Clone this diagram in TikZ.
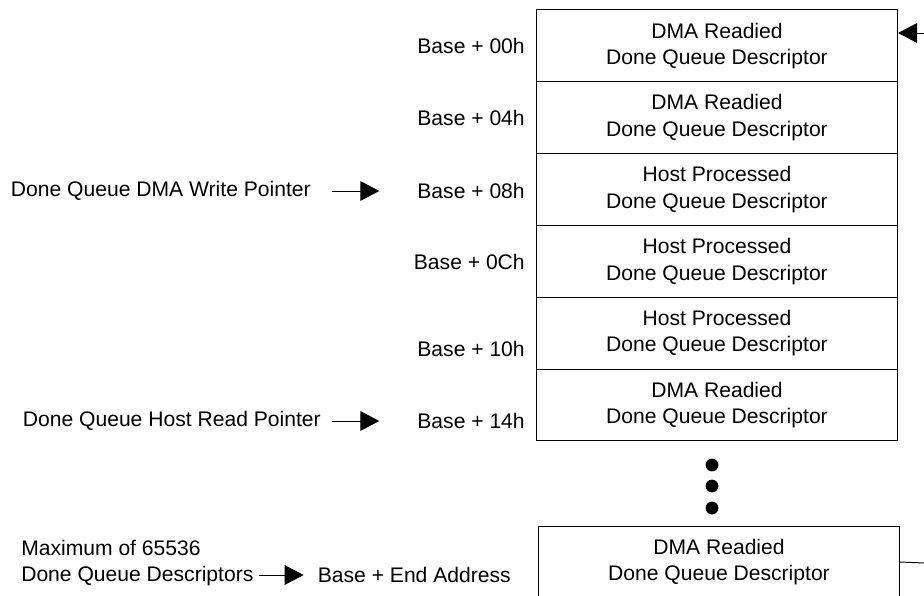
\documentclass[tikz,border=0pt]{standalone}
\usepackage{fontspec}
\setmainfont{Liberation Sans}
\usetikzlibrary{arrows.meta}

\begin{document}
\begin{tikzpicture}[x=0.025cm, y=-0.025cm, font=\fontsize{15}{18.9}\selectfont]
    \tikzset{slot/.style={draw, line width=0.7pt, minimum width=9.025cm, minimum height=1.795cm, inner sep=0pt, align=center}}
    \tikzset{addr/.style={anchor=east, inner sep=0pt}}
    \tikzset{ptr/.style={-{Triangle[length=13.5pt, width=14pt]}, line width=0.7pt}}
    \clip (0,0) rectangle (924,596); %% fixes the page size too

    % descriptor slots and their offsets
    \foreach \i/\y/\kind/\off in {0/46/DMA Readied/00h, 1/118/DMA Readied/04h, 2/191/Host Processed/08h,
                                  3/262/Host Processed/0Ch, 4/349/Host Processed/10h, 5/421/DMA Readied/14h} {
        \node[slot] (s\i) at (717,{45.9+71.8*\i}) {\kind\\Done Queue Descriptor};
        \node[addr] (b\i) at (525,\y) {Base + \off};
    }

    % more slots
    \foreach \y in {465,486,508}
        \fill (712,\y) circle (0.16cm);

    \node[slot] (last) at (719,562) {DMA Readied\\Done Queue Descriptor};
    \node[addr] (bend) at (511,575) {Base + End Address};

    % pointers
    \node[anchor=east, inner sep=0pt] (wp) at (311,191) {Done Queue DMA Write Pointer};
    \node[anchor=east, inner sep=0pt] (hr) at (321,421) {Done Queue Host Read Pointer};
    \node[anchor=west, inner sep=0pt, align=left] (mx) at (21,563) {Maximum of 65536\\Done Queue Descriptors};

    \draw[ptr, shorten <=14.9pt, shorten >=26.9pt] (wp.east) -- (b2.west);
    \draw[ptr, shorten <=7.8pt, shorten >=26.9pt] (hr.east) -- (b5.west);
    \draw[ptr, shorten <=3.5pt, shorten >=9.9pt] (mx.east |- bend.west) -- (bend.west);

    % ring wrap-around
    \coordinate (in) at (924,33);
    \coordinate (out) at (924,563);
    \draw[ptr] (in) -- (s0.east |- in);
    \draw[line width=0.7pt] (last.east) -- (out);
\end{tikzpicture}
\end{document}
